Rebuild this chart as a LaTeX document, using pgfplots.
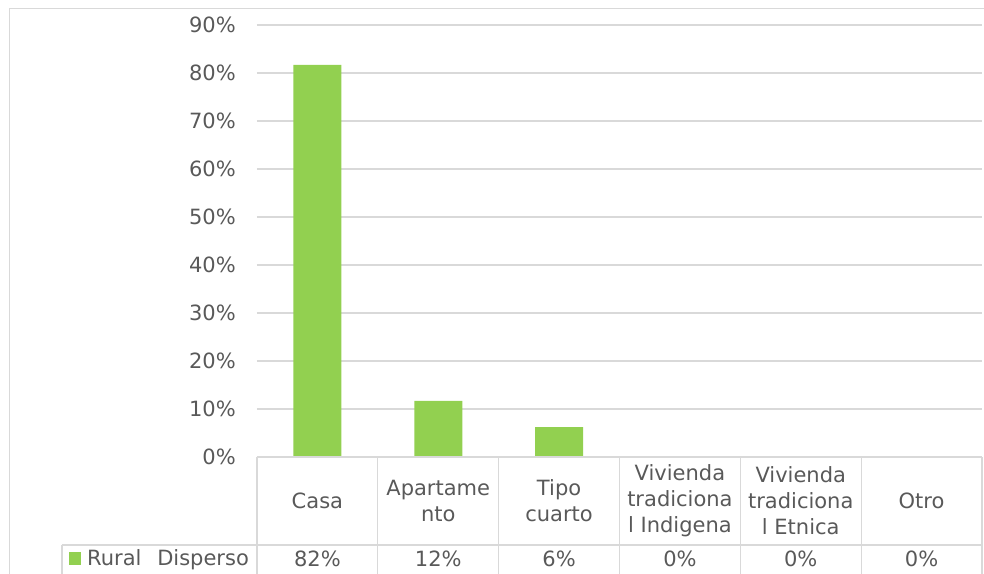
\documentclass[border=0pt]{standalone}
\usepackage{pgfplots}
\pgfplotsset{compat=1.18}
\usepackage{fontspec}
\setmainfont{DejaVu Sans}
\definecolor{txt}{HTML}{595959}
\definecolor{grd}{HTML}{D9D9D9}
\definecolor{barg}{HTML}{92D050}

\begin{document}
\fontsize{21}{26}\selectfont
\begin{tikzpicture}[x=1pt,y=1pt]
\useasboundingbox (-257,-116) rectangle (727,457);
\clip (-257,-116) rectangle (727,457);
% chart frame
\draw[grd, line width=1pt] (-247,-140) -- (-247,448) -- (760,448);
\begin{axis}[
  at={(0,0)}, anchor=south west,
  scale only axis, width=725pt, height=432pt,
  xmin=-0.5, xmax=5.5, ymin=0, ymax=90,
  ytick={0,10,...,90},
  yticklabel={\pgfmathprintnumber{\tick}\%},
  /pgf/number format/assume math mode=true,
  ymajorgrids, grid style={grd, line width=1.3pt},
  axis line style={draw=none},
  major tick length=0pt,
  xtick={0,...,5},
  xticklabels={Casa,{Apartame\\nto},{Tipo\\cuarto},{Vivienda\\tradiciona\\l Indigena},{Vivienda\\tradiciona\\l Etnica},Otro},
  xticklabel style={anchor=center, yshift=-44pt, align=center, inner sep=0pt},
  yticklabel style={anchor=east, inner sep=0pt, xshift=-21pt},
  ticklabel style={text=txt, font=\fontsize{21}{26}\selectfont},
  legend style={at={(axis description cs:-0.2593,-0.2361)}, anchor=west,
    draw=none, fill=none, inner sep=0pt, text=txt,
    nodes={inner sep=0pt}, font=\fontsize{21}{26}\selectfont},
  legend image code/.code={\fill[barg] (0pt,-6.5pt) rectangle (12pt,6.5pt); \path (18pt,0pt);},
]
\addplot[ybar, bar width=48pt, fill=barg, draw=none] coordinates {
  (0,81.7) (1,11.7) (2,6.25) (3,0) (4,0) (5,0)};
\legend{Rural\hspace{0.75em}Disperso}
\end{axis}
% data table
\foreach \i in {0,...,6} \draw[grd, line width=1.3pt] ({\i*725/6},0) -- ({\i*725/6},-130);
\draw[grd, line width=1.3pt] (0,0) -- (725,0);
\draw[grd, line width=1.3pt] (-195,-88) -- (725,-88);
\draw[grd, line width=1.3pt] (-195,-88) -- (-195,-130);
\foreach \v [count=\i from 0] in {82\%,12\%,6\%,0\%,0\%,0\%}
  \node[text=txt, inner sep=0pt] at ({(\i+0.5)*725/6},-102) {\v};
\end{tikzpicture}
\end{document}
